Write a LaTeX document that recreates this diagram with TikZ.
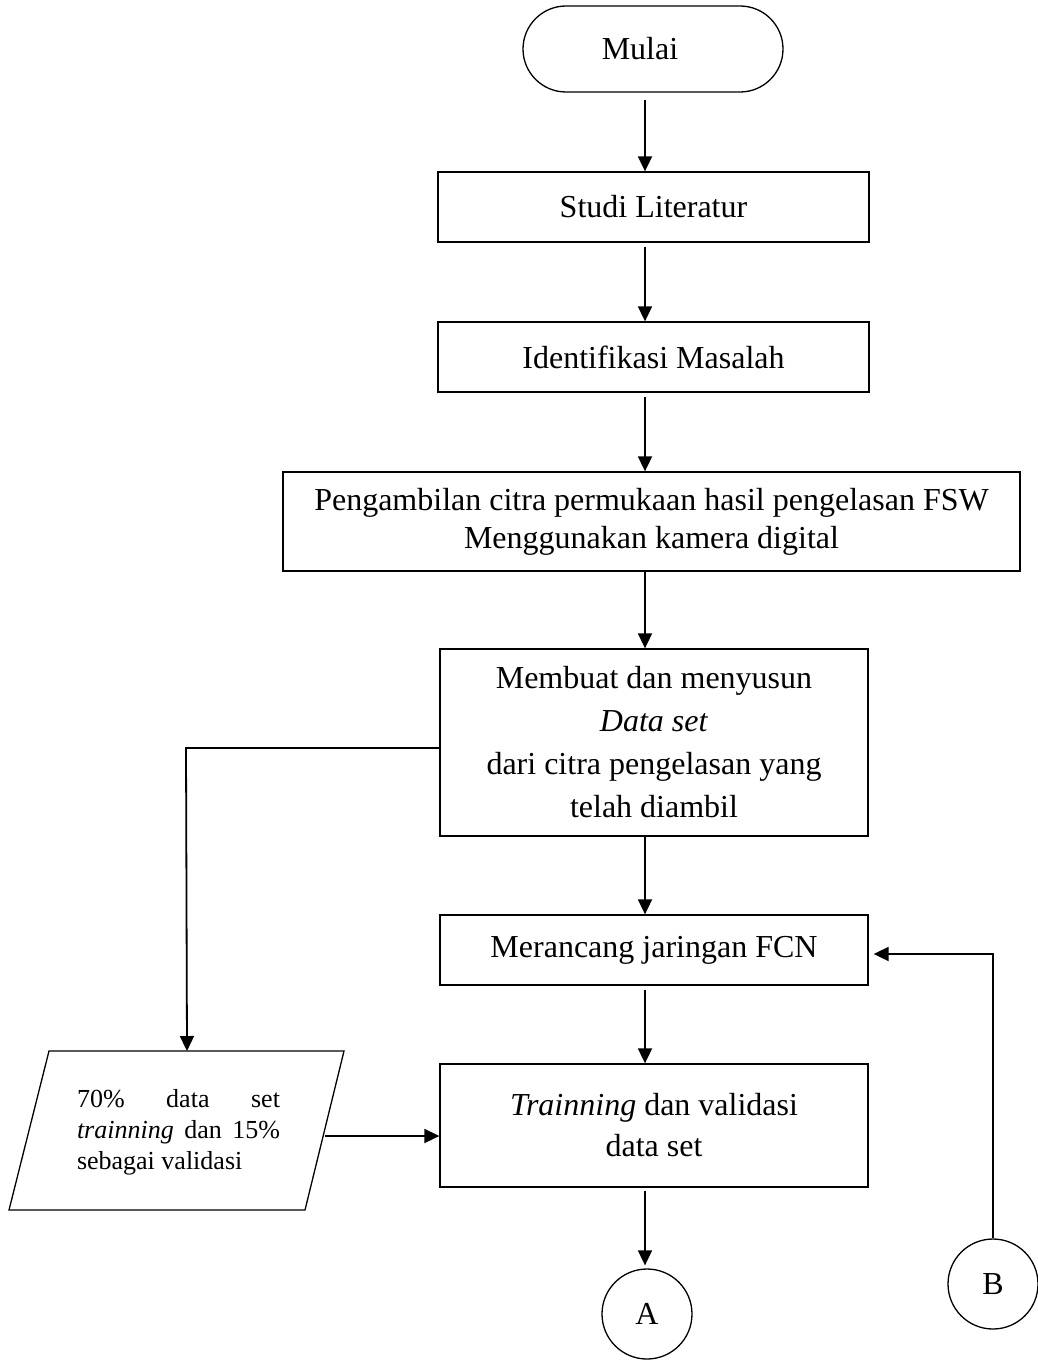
\documentclass[tikz,border=0pt]{standalone}
\usepackage{fontspec}
\setmainfont{Liberation Serif}
\usetikzlibrary{arrows.meta,shapes.geometric}
\begin{document}
\begin{tikzpicture}[x=1pt,y=-1pt,
  box/.style={draw,line width=1.3pt,inner sep=0pt,align=center,font={\fontsize{32}{41}\selectfont}},
  conn/.style={line width=1.8pt},
  arr/.style={conn,-{Triangle[length=15pt,width=14pt]}},
  connector/.style={draw,circle,line width=1.3pt,minimum size=90pt,inner sep=0pt,font={\fontsize{32}{41}\selectfont}}]
\useasboundingbox (0,0) rectangle (1038,1362);
\coordinate (ax) at (645,0);
\node[box,rounded corners=43pt,minimum width=260pt,minimum height=86pt] (mulai) at (653,49) {Mulai\hspace*{26pt}};
\node[box,minimum width=431pt,minimum height=70pt] (studi) at (653.5,207) {Studi Literatur};
\node[box,minimum width=431pt,minimum height=70pt] (ident) at (653.5,357) {Identifikasi Masalah};
\node[box,minimum width=737pt,minimum height=99pt,font={\fontsize{32}{38}\selectfont}] (peng) at (651.5,521.5) {Pengambilan citra permukaan hasil pengelasan FSW\\Menggunakan kamera digital};
\node[box,minimum width=428pt,minimum height=187pt,font={\fontsize{32}{43}\selectfont}] (buat) at (654,742.5) {Membuat dan menyusun\\\textit{Data set}\\dari citra pengelasan yang\\telah diambil};
\node[box,minimum width=428pt,minimum height=70pt] (rancang) at (654,950) {Merancang jaringan FCN};
\node[box,minimum width=428pt,minimum height=123pt] (train) at (654,1125.5) {\textit{Trainning} dan validasi\\data set};
\node[connector] (A) at (647,1314) {A};
\node[connector] (B) at (993,1284) {B};
% parallelogram
\draw[line width=1.3pt] (49,1051) coordinate (pTL) -- (344,1051) coordinate (pTR) -- (305,1210) coordinate (pBR) -- (9,1210) coordinate (pBL) -- cycle;
\coordinate (ptop) at (187,1051);
\coordinate (pright) at (324.5,1136);
\node[inner sep=0pt,font={\fontsize{26}{31}\selectfont}] (data) at (178.5,1132) {\parbox{203pt}{\sloppy 70\% data set\linebreak\textit{trainning} dan 15\%\linebreak sebagai validasi}};
% connectors
\draw[arr,shorten <=7pt] (mulai.south -| ax) -- (studi.north -| ax);
\draw[arr,shorten <=4pt] (studi.south -| ax) -- (ident.north -| ax);
\draw[arr,shorten <=4pt] (ident.south -| ax) -- (peng.north -| ax);
\draw[arr] (peng.south -| ax) -- (buat.north -| ax);
\draw[arr] (buat.south -| ax) -- (rancang.north -| ax);
\draw[arr,shorten <=4pt] (rancang.south -| ax) -- (train.north -| ax);
\draw[arr,shorten <=3pt,shorten >=3pt] (train.south -| ax) -- (A.north -| ax);
\coordinate (lj) at (186,748);
\draw[arr] (buat.west |- lj) -- (lj) -- (ptop);
\draw[arr] (pright) -- (train.west |- pright);
\coordinate (bj) at (993,954);
\draw[arr,shorten >=5pt] (B.north) -- (bj) -- (rancang.east |- bj);
\end{tikzpicture}
\end{document}
